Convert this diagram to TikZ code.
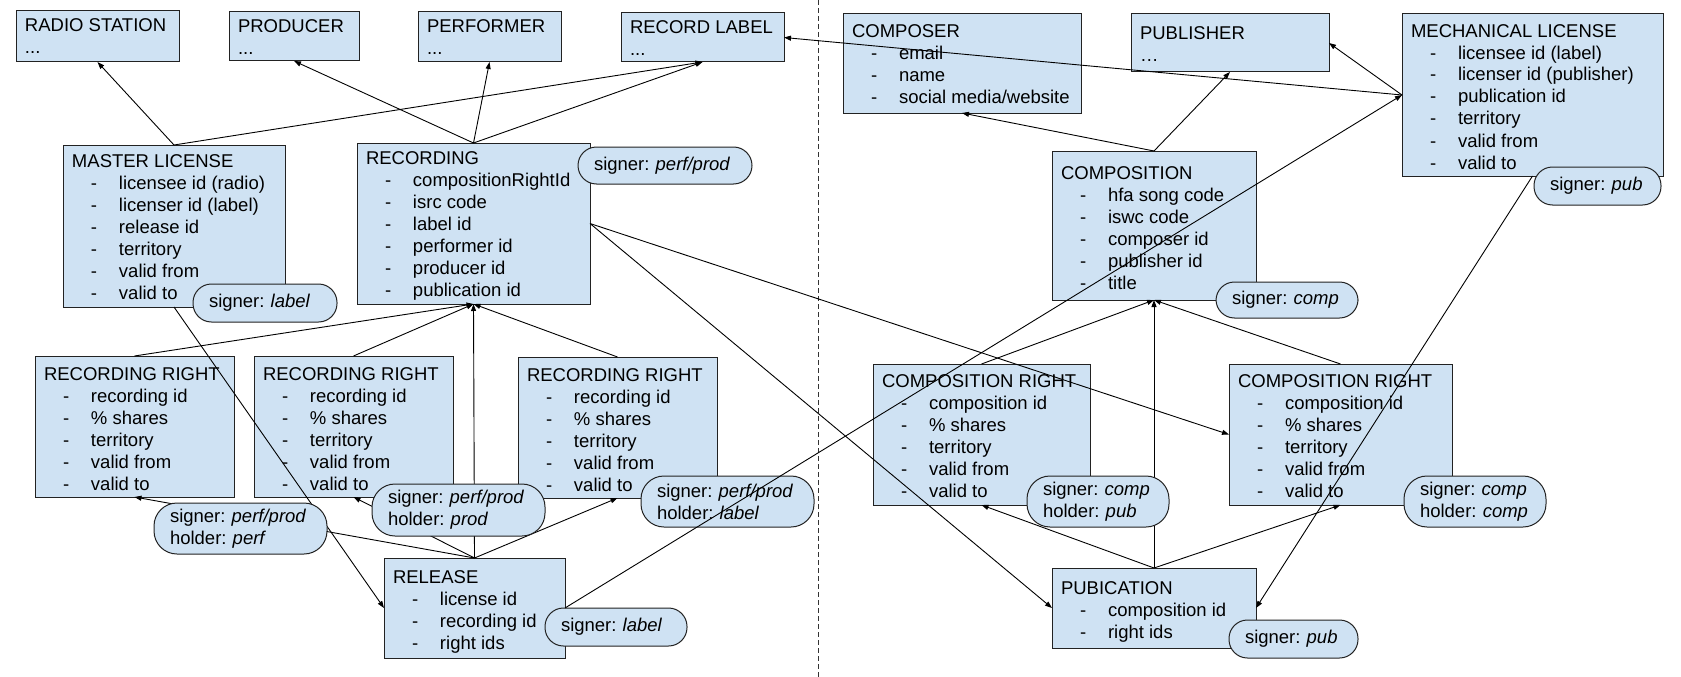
\documentclass[tikz,border=0pt]{standalone}
\usepackage{fontspec}
\setmainfont{Liberation Sans}
\usetikzlibrary{arrows.meta}
\definecolor{boxblue}{HTML}{CFE2F3}
\definecolor{edgecol}{HTML}{222222}
\newcommand{\bx}[4]{\parbox[c][#2pt][t]{#1pt}{\rule{0pt}{#3pt}\hspace*{9pt}#4}}
\newcommand{\itm}[1]{\\\hspace*{28pt}\makebox[28pt][l]{-}#1}
\newcommand{\more}[1]{\\\hspace*{9pt}#1}
\newcommand{\sgn}[1]{\mbox{signer: \textit{#1}}}
\newcommand{\hld}[1]{\mbox{holder: \textit{#1}}}
\begin{document}
\frenchspacing
\begin{tikzpicture}[x=1pt,y=-1pt,
  font=\fontsize{18.5}{22}\selectfont\frenchspacing,
  box/.style={draw=edgecol, line width=1pt, fill=boxblue, anchor=north west, inner sep=0pt, outer sep=0pt},
  sig/.style={draw=edgecol, line width=1pt, fill=boxblue, anchor=north west, rounded corners=18.5pt, inner xsep=16pt, inner ysep=0pt, align=left, outer sep=0pt},
  sigtwo/.style={sig, rounded corners=23pt},
  conn/.style={draw=black, line width=0.9pt, -{Triangle[length=7pt,width=5pt]}},
  divider/.style={draw=black!80, line width=0.8pt, dash pattern=on 5pt off 3pt}
]
\useasboundingbox (0,0) rectangle (1681,677);
\coordinate (dtop) at (818,0);
\coordinate (dbot) at (818,677);
\draw[divider] (dtop) -- (dbot);

% top row
\node[box] (radio) at (16,11) {\bx{163}{51}{21}{RADIO STATION\more{...}}};
\node[box] (producer) at (229,12) {\bx{130}{49}{21}{PRODUCER\more{...}}};
\node[box] (performer) at (418,12) {\bx{143}{50}{21}{PERFORMER\more{...}}};
\node[box] (label) at (621,13) {\bx{163}{49}{21}{RECORD LABEL\more{...}}};
\node[box] (composer) at (843,14) {\bx{238}{99}{24}{COMPOSER\itm{email}\itm{name}\itm{social media/website}}};
\node[box] (publisher) at (1131,14) {\bx{198}{58}{26}{PUBLISHER\more{…}}};
\node[box] (mech) at (1402,14) {\bx{261}{162}{23}{MECHANICAL LICENSE\itm{licensee id (label)}\itm{licenser id (publisher)}\itm{publication id}\itm{territory}\itm{valid from}\itm{valid to}}};

% second row
\node[box] (ml) at (63,145) {\bx{222}{162}{22}{MASTER LICENSE\itm{licensee id (radio)}\itm{licenser id (label)}\itm{release id}\itm{territory}\itm{valid from}\itm{valid to}}};
\node[box] (rec) at (357,143) {\bx{233}{161}{21}{RECORDING\itm{compositionRightId}\itm{isrc code}\itm{label id}\itm{performer id}\itm{producer id}\itm{publication id}}};
\node[box] (comp) at (1052,151) {\bx{204}{149}{28}{COMPOSITION\itm{hfa song code}\itm{iswc code}\itm{composer id}\itm{publisher id}\itm{title}}};

% rights
\node[box] (rr1) at (35,356) {\bx{199}{141}{24}{RECORDING RIGHT\itm{recording id}\itm{\% shares}\itm{territory}\itm{valid from}\itm{valid to}}};
\node[box] (rr2) at (254,356) {\bx{199}{141}{24}{RECORDING RIGHT\itm{recording id}\itm{\% shares}\itm{territory}\itm{valid from}\itm{valid to}}};
\node[box] (rr3) at (518,357) {\bx{199}{141}{24}{RECORDING RIGHT\itm{recording id}\itm{\% shares}\itm{territory}\itm{valid from}\itm{valid to}}};
\node[box] (cr1) at (873,364) {\bx{217}{141}{23}{COMPOSITION RIGHT\itm{composition id}\itm{\% shares}\itm{territory}\itm{valid from}\itm{valid to}}};
\node[box] (cr2) at (1229,364) {\bx{223}{141}{23}{COMPOSITION RIGHT\itm{composition id}\itm{\% shares}\itm{territory}\itm{valid from}\itm{valid to}}};

% bottom
\node[box] (release) at (384,558) {\bx{181}{100}{25}{RELEASE\itm{license id}\itm{recording id}\itm{right ids}}};
\node[box] (pub) at (1052,568) {\bx{204}{80}{26}{PUBICATION\itm{composition id}\itm{right ids}}};

% connectors
\draw[conn] (ml.north) -- (radio.south);
\draw[conn] (ml.north) -- (label.south);
\draw[conn] (rec.north) -- (producer.south);
\draw[conn] (rec.north) -- (performer.south);
\draw[conn] (rec.north) -- (label.south);
\draw[conn] (mech.west) -- (label.east);
\draw[conn] (mech.west) -- (publisher.east);
\draw[conn] (comp.north) -- (composer.south);
\draw[conn] (comp.north) -- (publisher.south);
\draw[conn] (mech.south) -- (pub.east);
\draw[conn] (rec.east) -- (cr2.west);
\draw[conn] (rec.east) -- (pub.west);
\draw[conn] (rr1.north) -- (rec.south);
\draw[conn] (rr2.north) -- (rec.south);
\draw[conn] (rr3.north) -- (rec.south);
\draw[conn] (release.north) -- (rec.south);
\draw[conn] (release.north) -- (rr1.south);
\draw[conn] (release.north) -- (rr2.south);
\draw[conn] (release.north) -- (rr3.south);
\draw[conn] (ml.south) -- (release.west);
\draw[conn] (cr1.north) -- (comp.south);
\draw[conn] (cr2.north) -- (comp.south);
\draw[conn] (pub.north) -- (comp.south);
\draw[conn] (pub.north) -- (cr1.south);
\draw[conn] (pub.north) -- (cr2.south);

% signers
\node[sig, text width=112pt, minimum height=38pt] (sml) at (193,284) {\sgn{label}};
\node[sig, text width=142pt, minimum height=37pt] (srec) at (578,147) {\sgn{perf/prod}};
\node[sig, text width=95pt, minimum height=38pt] (smech) at (1534,167) {\sgn{pub}};
\node[sig, text width=110pt, minimum height=36pt] (scomp) at (1216,282) {\sgn{comp}};
\node[sigtwo, text width=141pt, minimum height=51pt] (srr1) at (154,503) {\sgn{perf/prod}\\\hld{perf}};
\node[sigtwo, text width=141pt, minimum height=52pt] (srr2) at (372,484) {\sgn{perf/prod}\\\hld{prod}};
\node[sigtwo, text width=141pt, minimum height=51pt] (srr3) at (641,476) {\sgn{perf/prod}\\\hld{label}};
\node[sig, text width=110pt, minimum height=38pt] (srel) at (545,608) {\sgn{label}};
\node[sigtwo, text width=110pt, minimum height=51pt] (scr1) at (1027,476) {\sgn{comp}\\\hld{pub}};
\node[sigtwo, text width=110pt, minimum height=51pt] (scr2) at (1404,476) {\sgn{comp}\\\hld{comp}};
\node[sig, text width=97pt, minimum height=38pt] (spub) at (1229,620) {\sgn{pub}};

\draw[conn] (release.east) -- (mech.west);
\end{tikzpicture}
\end{document}
